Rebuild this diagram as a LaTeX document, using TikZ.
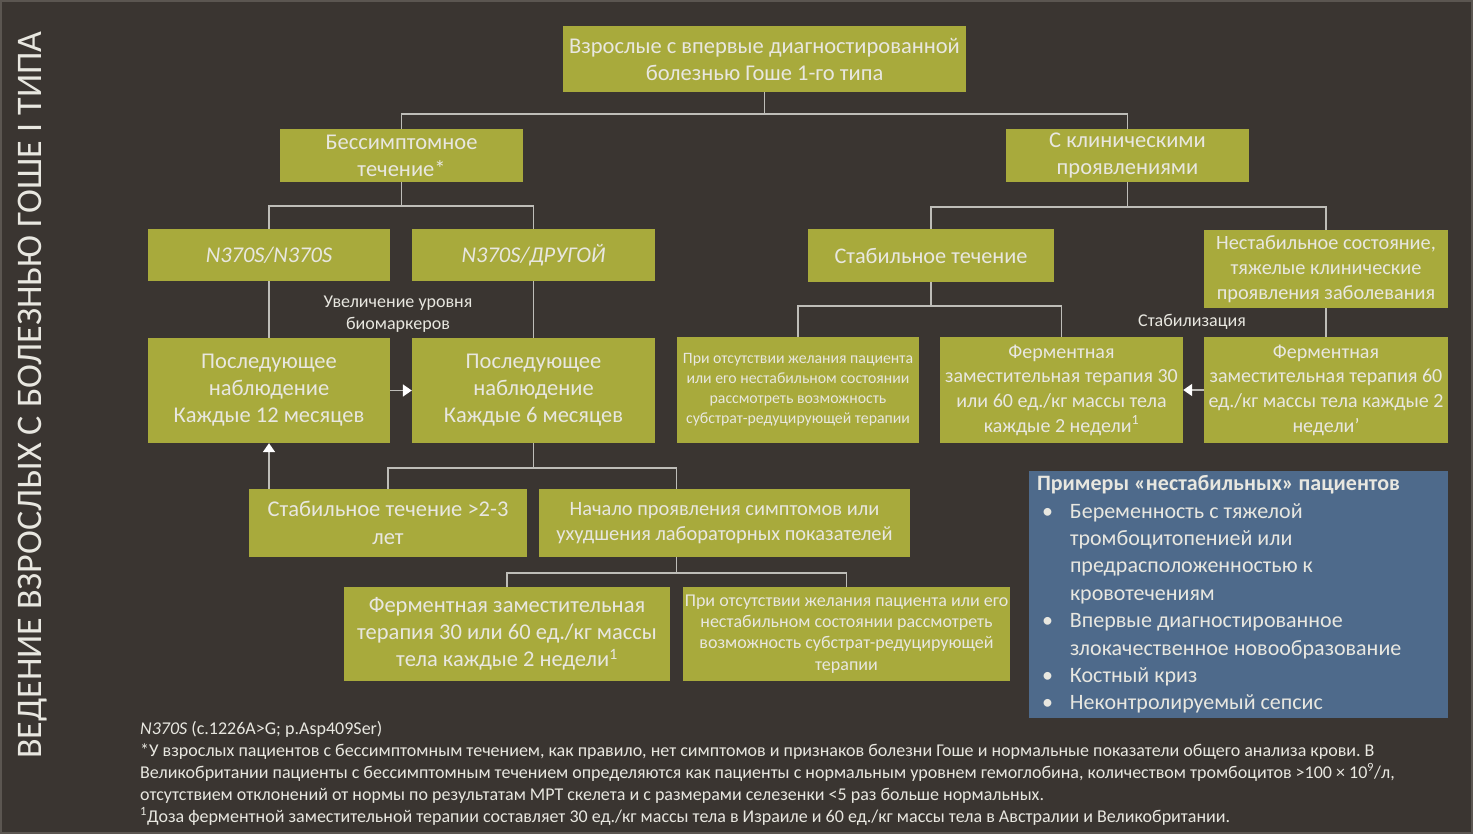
\documentclass[tikz,border=0pt]{standalone}
\usepackage{fontspec}
\setmainfont{Carlito}
\usetikzlibrary{arrows.meta}

\definecolor{fondo}{HTML}{3A3531}
\definecolor{oliva}{HTML}{A8AA3C}
\definecolor{claro}{HTML}{E8E7E0}
\definecolor{gris}{HTML}{BEBDB8}
\definecolor{azul}{HTML}{4E6A8B}
\definecolor{marco}{HTML}{5B5651}

\newcommand{\punto}{\hspace*{5pt}\makebox[28pt][l]{•}}
\newcommand{\sangria}{\hspace*{33pt}}
\frenchspacing

\begin{document}
\begin{tikzpicture}[x=1pt, y=-1pt,
		caja/.style={fill=oliva, text=claro, align=center, inner sep=0pt},
		conector/.style={draw=gris, line width=1.8pt},
		flecha/.style={conector, -{Triangle[length=9pt, width=12pt, color=white]}},
		nota/.style={text=claro, align=center, inner sep=0pt}]

		% Fondo y marco
		\fill[color=fondo] (0,0) rectangle (1473,834);
		\useasboundingbox (0,0) rectangle (1473,834);
		\draw[color=marco, line width=2pt] (1,1) rectangle (1472,833);

		% Titulo vertical
		\node[text=claro, rotate=90, inner sep=0pt, font=\fontsize{36}{36}\selectfont] (titulo) at (33,395) {ВЕДЕНИЕ ВЗРОСЛЫХ С БОЛЕЗНЬЮ ГОШЕ I ТИПА};

		% Cajas de arriba
		\node[caja, minimum width=403pt, minimum height=66pt, font=\fontsize{22.5}{27}\selectfont] (raiz) at (764.5,59) {Взрослые с впервые диагностированной\\болезнью Гоше 1-го типа};
		\node[caja, minimum width=243pt, minimum height=53pt, font=\fontsize{22.5}{27}\selectfont] (asint) at (401.5,155.5) {Бессимптомное\\течение*};
		\node[caja, minimum width=243pt, minimum height=53pt, font=\fontsize{22.5}{27}\selectfont] (clin) at (1127.5,155.5) {С клиническими\\проявлениями};

		% Rama izquierda
		\node[caja, minimum width=242pt, minimum height=52pt, font=\fontsize{22.5}{27}\selectfont\itshape] (n1) at (269,255) {N370S/N370S};
		\node[caja, minimum width=243pt, minimum height=52pt, font=\fontsize{22.5}{27}\selectfont\itshape] (n2) at (533.5,255) {N370S/ДРУГОЙ};
		\node[caja, minimum width=242pt, minimum height=105pt, font=\fontsize{22.5}{27}\selectfont] (seg12) at (269,390.5) {Последующее\\наблюдение\\Каждые 12 месяцев};
		\node[caja, minimum width=243pt, minimum height=105pt, font=\fontsize{22.5}{27}\selectfont] (seg6) at (533.5,390.5) {Последующее\\наблюдение\\Каждые 6 месяцев};
		\node[caja, minimum width=278pt, minimum height=68pt, font=\fontsize{22.5}{28}\selectfont] (estab3) at (388,523) {Стабильное течение >2-3\\лет};
		\node[caja, minimum width=371pt, minimum height=68pt, font=\fontsize{20.4}{25}\selectfont] (inicio) at (724.5,523) {Начало проявления симптомов или\\ухудшения лабораторных показателей};
		\node[caja, minimum width=326pt, minimum height=94pt, font=\fontsize{22.5}{27}\selectfont] (ferm3) at (507,634) {Ферментная заместительная\\терапия 30 или 60 ед./кг массы\\тела каждые 2 недели\textsuperscript{1}};
		\node[caja, minimum width=327pt, minimum height=94pt, font=\fontsize{18}{21.3}\selectfont] (srt2) at (846.5,634) {При отсутствии желания пациента или его\\нестабильном состоянии рассмотреть\\возможность субстрат-редуцирующей\\терапии};

		% Rama derecha
		\node[caja, minimum width=246pt, minimum height=53pt, font=\fontsize{22.3}{27}\selectfont] (estab) at (931,255.5) {Стабильное течение};
		\node[caja, minimum width=244pt, minimum height=78pt, font=\fontsize{20.3}{25}\selectfont] (nestab) at (1326,269) {Нестабильное состояние,\\тяжелые клинические\\проявления заболевания};
		\node[caja, minimum width=242pt, minimum height=106pt, font=\fontsize{15.8}{20}\selectfont] (srt1) at (798,390) {При отсутствии желания пациента\\или его нестабильном состоянии\\рассмотреть возможность\\субстрат-редуцирующей терапии};
		\node[caja, minimum width=243pt, minimum height=106pt, font=\fontsize{20}{24.7}\selectfont] (ferm1) at (1061.5,390) {Ферментная\\заместительная терапия 30\\или 60 ед./кг массы тела\\каждые 2 недели\textsuperscript{1}};
		\node[caja, minimum width=244pt, minimum height=106pt, font=\fontsize{20}{24.7}\selectfont] (ferm2) at (1326,390) {Ферментная\\заместительная терапия 60\\ед./кг массы тела каждые 2\\недели'};

		% Conectores
		\draw[conector] (raiz.south) -- ++(0,22) -| (asint.north);
		\draw[conector] (raiz.south) -- ++(0,22) -| (clin.north);
		\draw[conector] (asint.south) -- ++(0,24) -| (n1.north);
		\draw[conector] (asint.south) -- ++(0,24) -| (n2.north);
		\draw[conector] (clin.south) -- ++(0,25) -| (estab.north);
		\draw[conector] (clin.south) -- ++(0,25) -| (nestab.north);
		\draw[conector] (n1.south) -- (seg12.north);
		\draw[conector] (n2.south) -- (seg6.north);
		\draw[conector] (estab.south) -- ++(0,24) -| (srt1.north);
		\draw[conector] (estab.south) -- ++(0,24) -| (ferm1.north);
		\draw[conector] (nestab.south) -- (ferm2.north);
		\draw[conector] (seg6.south) -- ++(0,25) -| (estab3.north);
		\draw[conector] (seg6.south) -- ++(0,25) -| ([xshift=-48pt]inicio.north);
		\draw[conector] ([xshift=-48pt]inicio.south) -- ++(0,16) -| (ferm3.north);
		\draw[conector] ([xshift=-48pt]inicio.south) -- ++(0,16) -| (srt2.north);

		% Flechas
		\draw[flecha] (seg12.east) -- (seg6.west);
		\draw[flecha] (estab3.north -| seg12.south) -- (seg12.south);
		\draw[flecha] (ferm2.west) -- (ferm1.east);

		% Etiquetas de las flechas
		\node[nota, font=\fontsize{18}{22}\selectfont] (biomarc) at (398,314) {Увеличение уровня\\биомаркеров};
		\node[nota, font=\fontsize{18}{20}\selectfont] (estabil) at (1192,322) {Стабилизация};

		% Caja azul
		\node[fill=azul, text=claro, minimum width=419pt, minimum height=247pt, text width=403pt, align=flush left, inner xsep=8pt, inner ysep=0pt, font=\fontsize{22}{27.4}\selectfont] (ejemplos) at (1238.5,594.5) {\textbf{Примеры «нестабильных» пациентов}\\
			\punto Беременность с тяжелой\\
			\sangria тромбоцитопенией или\\
			\sangria предрасположенностью к\\
			\sangria кровотечениям\\
			\punto Впервые диагностированное\\
			\sangria злокачественное новообразование\\
			\punto Костный криз\\
			\punto Неконтролируемый сепсис};

		% Notas al pie
		\node[text=claro, align=left, anchor=west, inner sep=0pt, font=\fontsize{18}{22}\selectfont] (notas) at (140,773) {\textit{N370S} (c.1226A>G; p.Asp409Ser)\\
			*У взрослых пациентов с бессимптомным течением, как правило, нет симптомов и признаков болезни Гоше и нормальные показатели общего анализа крови. В\\
			Великобритании пациенты с бессимптомным течением определяются как пациенты с нормальным уровнем гемоглобина, количеством тромбоцитов >100 × 10\textsuperscript{9}/л,\\
			отсутствием отклонений от нормы по результатам МРТ скелета и с размерами селезенки <5 раз больше нормальных.\\
			\textsuperscript{1}Доза ферментной заместительной терапии составляет 30 ед./кг массы тела в Израиле и 60 ед./кг массы тела в Австралии и Великобритании.};
	\end{tikzpicture}
\end{document}
